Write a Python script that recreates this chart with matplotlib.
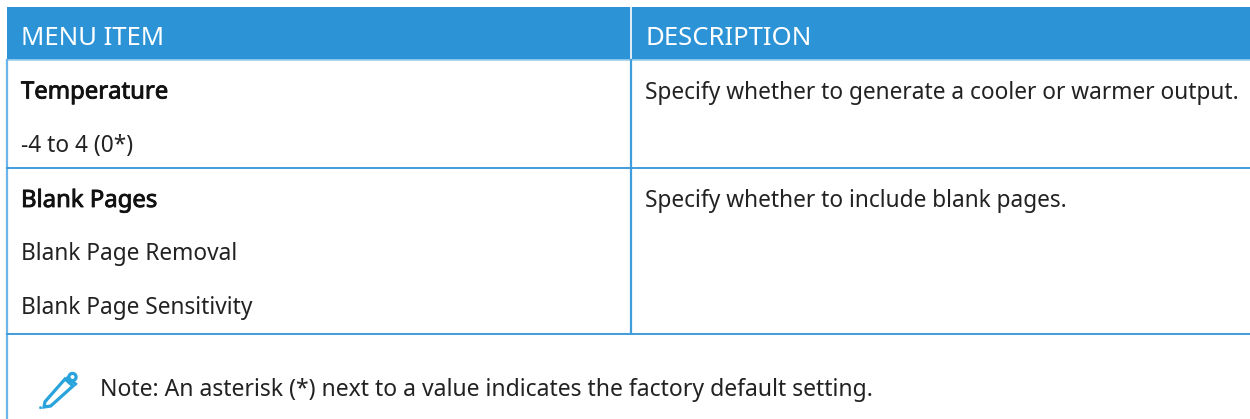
import matplotlib
matplotlib.use('Agg')
import matplotlib.pyplot as plt
import matplotlib.patheffects as pe
from matplotlib.patches import Rectangle, Polygon, Circle

# table text
headers = ['MENU ITEM', 'DESCRIPTION']
row_1_items = ['Temperature', '-4 to 4 (0*)']
row_2_items = ['Blank Pages', 'Blank Page Removal', 'Blank Page Sensitivity']
row_1_desc = 'Specify whether to generate a cooler or warmer output.'
row_2_desc = 'Specify whether to include blank pages.'
note = 'Note: An asterisk (*) next to a value indicates the factory default setting.'

BLUE = '#2b93d6'
LINE = '#3f9ddb'
ICON = '#29a3dc'
TEXT = '#222222'
FONT = 'Noto Sans'
SIZE = 16.35

fig = plt.figure(figsize=(12.5, 4.19), dpi=100)
ax = fig.add_axes([0, 0, 1, 1])
ax.set_xlim(0, 1250)
ax.set_ylim(419, 0)
ax.axis('off')

# header band
ax.add_patch(Rectangle((7, 7), 1243, 53, color=BLUE, lw=0))
ax.plot([631, 631], [7, 60], color='white', lw=1.2)
ax.plot([7, 1250], [60.5, 60.5], color='#9fd0ee', lw=1.2)

# table lines
ax.plot([7, 7], [60, 419], color='#6db5e8', lw=1.6)
ax.plot([631, 631], [60, 333], color=LINE, lw=1.6)
ax.plot([7, 1250], [168, 168], color=LINE, lw=1.4)
ax.plot([7, 1250], [333.5, 333.5], color=LINE, lw=1.4)


def put(x, y, s, size=SIZE, color=TEXT, heavy=False):
    t = ax.text(x, y, s, color=color, fontsize=size, family=FONT, va='baseline')
    if heavy:
        # no medium weight installed, thicken the regular one a bit
        t.set_path_effects([pe.withStroke(linewidth=0.6, foreground=color)])


put(21, 45, headers[0], size=18.5, color='white')
put(645, 45, headers[1], size=18.5, color='white')

put(21, 98.5, row_1_items[0], size=17.2, color='#111111', heavy=True)
put(21, 152, row_1_items[1])
put(645, 98.5, row_1_desc)

put(21, 207, row_2_items[0], size=17.2, color='#111111', heavy=True)
put(21, 260, row_2_items[1])
put(21, 313.5, row_2_items[2])
put(645, 207, row_2_desc)

put(100, 396, note, size=16.5)

# pencil icon
ax.add_patch(Polygon([(45, 401.7), (65, 379), (73, 386), (50.7, 406), (44, 407)],
                     closed=True, fill=False, edgecolor=ICON, lw=2.3))
ax.add_patch(Circle((72.5, 377), 3.6, fill=False, edgecolor=ICON, lw=2.3))
ax.plot([67.5, 75.5], [378, 384], color=ICON, lw=2.3)
ax.add_patch(Circle((40.5, 407.7), 1.4, color=ICON, lw=0))

fig.savefig('out.png', dpi=100)
